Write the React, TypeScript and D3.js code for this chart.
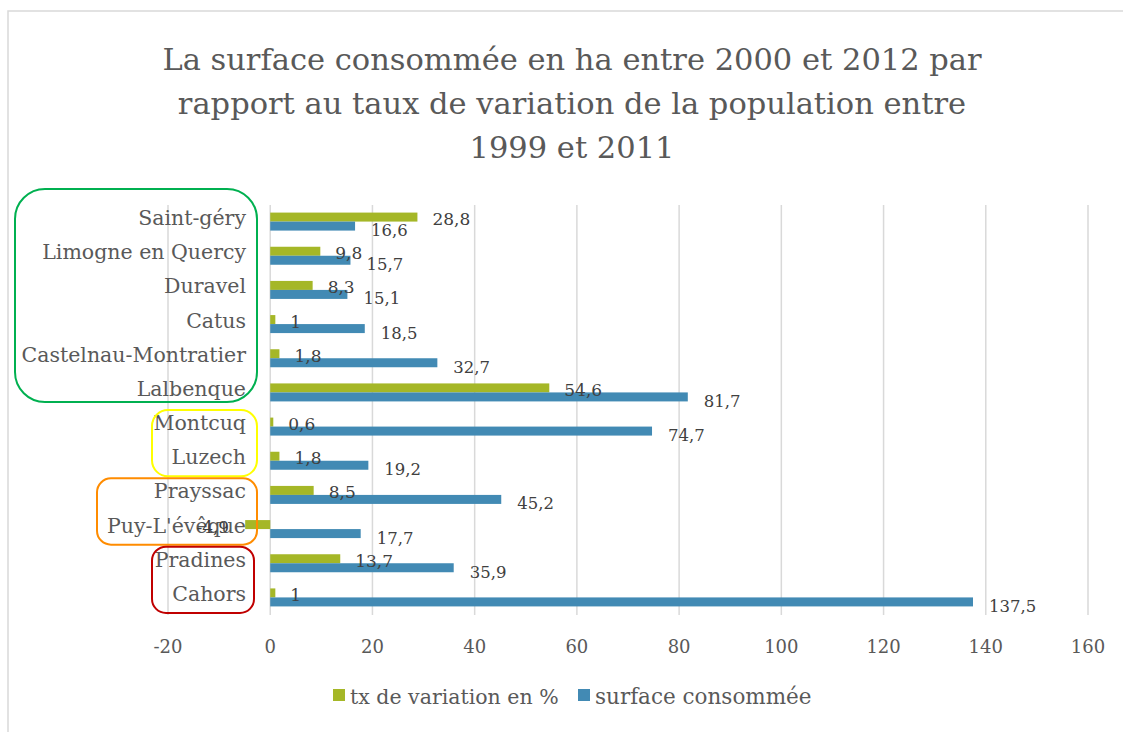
import React from "react";
import * as d3 from "d3";

const categories = [
  "Saint-géry",
  "Limogne en Quercy",
  "Duravel",
  "Catus",
  "Castelnau-Montratier",
  "Lalbenque",
  "Montcuq",
  "Luzech",
  "Prayssac",
  "Puy-L'évêque",
  "Pradines",
  "Cahors",
];
const txVariation = [28.8, 9.8, 8.3, 1, 1.8, 54.6, 0.6, 1.8, 8.5, -4.9, 13.7, 1];
const surface = [16.6, 15.7, 15.1, 18.5, 32.7, 81.7, 74.7, 19.2, 45.2, 17.7, 35.9, 137.5];
const xTicks = [-20, 0, 20, 40, 60, 80, 100, 120, 140, 160];
const titleLines = [
  "La surface consommée en ha entre 2000 et 2012 par",
  "rapport au taux de variation de la population entre",
  "1999 et 2011",
];
const seriesNames = ["tx de variation en %", "surface consommée"];
const groups = [
  { from: "Saint-géry", to: "Lalbenque", color: "#00b050" },
  { from: "Montcuq", to: "Luzech", color: "#ffff00" },
  { from: "Prayssac", to: "Puy-L'évêque", color: "#ff8c00" },
  { from: "Pradines", to: "Cahors", color: "#c00000" },
];

const GREEN = "#a5b727";
const BLUE = "#428ab4";
const FONT = "'DejaVu Serif', 'Liberation Serif', serif";
const fmt = (v: number) => String(v).replace(".", ",");

export default function App() {
  const W = 1123;
  const H = 732;
  const x = d3.scaleLinear().domain([-20, 160]).range([168, 1088]);
  const y = d3.scaleBand<string>().domain(categories).range([205, 615]).paddingInner(0).paddingOuter(0);
  const bw = y.bandwidth();
  const barH = 9;
  const groupBoxes = [
    { x0: 15, x1: 257, rx: 30 },
    { x0: 152, x1: 257, rx: 16 },
    { x0: 97, x1: 257, rx: 14 },
    { x0: 152, x1: 254, rx: 14 },
  ];

  return (
    <svg width={W} height={H} style={{ position: "absolute", left: 0, top: 0, background: "#fff" }}>
      <rect x={8} y={11} width={1400} height={1000} fill="#fff" stroke="#d9d9d9" strokeWidth={1.5} />
      {titleLines.map((t, i) => (
        <text key={i} x={572} y={70 + i * 44} textAnchor="middle" fontFamily={FONT} fontSize={30.5} fill="#595959">
          {t}
        </text>
      ))}
      {xTicks.map((t) => (
        <g key={t}>
          <line x1={x(t)} x2={x(t)} y1={205} y2={615} stroke="#d9d9d9" strokeWidth={1.5} />
          <text x={x(t)} y={653} textAnchor="middle" fontFamily={FONT} fontSize={18} fill="#595959">
            {t}
          </text>
        </g>
      ))}
      {categories.map((c, i) => {
        const cy = (y(c) as number) + bw / 2;
        const gv = txVariation[i];
        const bv = surface[i];
        const gy = cy - barH - 0.5;
        const by = cy - 0.5;
        return (
          <g key={c}>
            <rect x={Math.min(x(0), x(gv))} y={gy} width={Math.abs(x(gv) - x(0))} height={barH} fill={GREEN} />
            <rect x={Math.min(x(0), x(bv))} y={by} width={Math.abs(x(bv) - x(0))} height={barH} fill={BLUE} />
            <text x={246} y={cy + 3} textAnchor="end" fontFamily={FONT} fontSize={20.5} fill="#595959">
              {c}
            </text>
          </g>
        );
      })}
      {categories.map((c, i) => {
        const cy = (y(c) as number) + bw / 2;
        const gv = txVariation[i];
        const bv = surface[i];
        return (
          <g key={c + "-lbl"}>
            <text
              x={gv >= 0 ? x(gv) + 15 : x(gv) - 16}
              y={cy + 3}
              textAnchor={gv >= 0 ? "start" : "end"}
              fontFamily={FONT}
              fontSize={17}
              fill="#404040"
            >
              {fmt(gv)}
            </text>
            <text x={x(bv) + 16} y={cy + 14} fontFamily={FONT} fontSize={16.5} fill="#404040">
              {fmt(bv)}
            </text>
          </g>
        );
      })}
      {groups.map((g, i) => {
        const b = groupBoxes[i];
        const top = (y(g.from) as number) - (i === 0 ? 16 : 0);
        const bottom = (y(g.to) as number) + bw - (i === 0 ? 8 : 2);
        return (
          <rect
            key={i}
            x={b.x0}
            y={top}
            width={b.x1 - b.x0}
            height={bottom - top}
            rx={b.rx}
            ry={b.rx}
            fill="none"
            stroke={g.color}
            strokeWidth={2}
          />
        );
      })}
      <rect x={333} y={689} width={12} height={12} fill={GREEN} />
      <text x={350} y={704} fontFamily={FONT} fontSize={20.5} fill="#595959">
        {seriesNames[0]}
      </text>
      <rect x={578} y={689} width={12} height={12} fill={BLUE} />
      <text x={595} y={704} fontFamily={FONT} fontSize={21.5} fill="#595959">
        {seriesNames[1]}
      </text>
    </svg>
  );
}
